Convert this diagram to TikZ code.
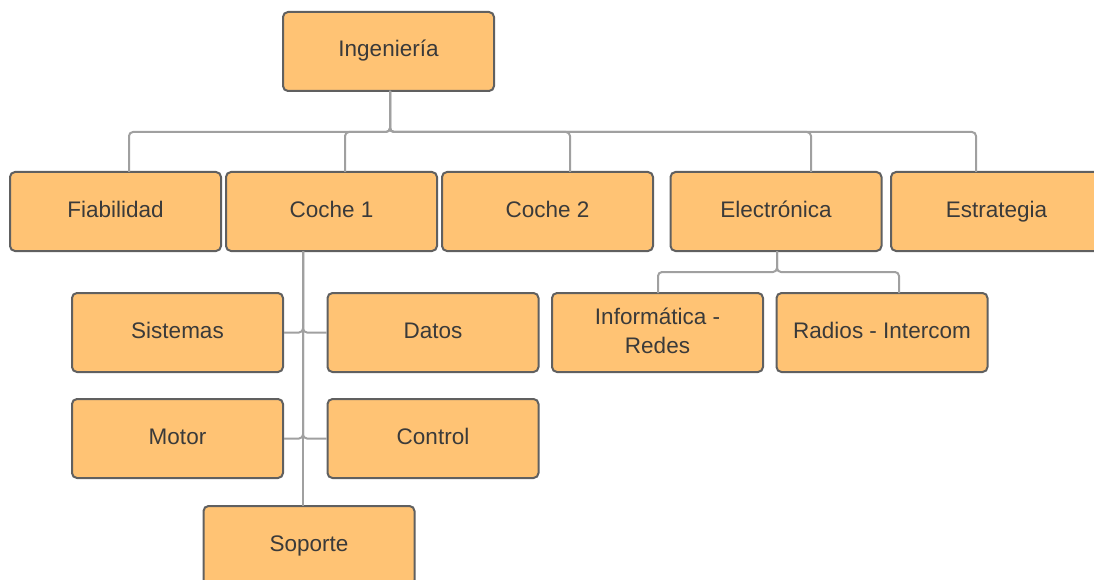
\documentclass[tikz,border=0pt]{standalone}
\usepackage{fontspec}
\setmainfont{Liberation Sans}
\definecolor{boxfill}{HTML}{FFC374}
\definecolor{boxline}{HTML}{606060}
\definecolor{txt}{HTML}{3A3A3A}
\definecolor{conn}{HTML}{A0A0A0}
\tikzset{
  orgbox/.style={draw=boxline, line width=2pt, fill=boxfill, rounded corners=5pt,
    minimum width=211pt, minimum height=79pt, inner sep=0pt, text=txt,
    text height=17pt, text depth=6pt,
    font=\fontsize{22.5}{29}\selectfont, align=center},
  twoline/.style={text height=, text depth=4pt},
  link/.style={draw=conn, line width=2pt, rounded corners=4pt}
}
\begin{document}
\begin{tikzpicture}[x=1pt, y=-1pt]
\useasboundingbox (0,0) rectangle (1094,580);
\clip (0,0) rectangle (1094,580);
\coordinate (ingb) at (390,91);
\coordinate (c1b) at (303,251);
\coordinate (eleb) at (777,251);
\coordinate (fiat) at (129,172);
\coordinate (c1t) at (345,172);
\coordinate (c2t) at (570,172);
\coordinate (elet) at (811,172);
\coordinate (estt) at (976,172);
\coordinate (soptop) at (303,506);
\coordinate (inft) at (658,293);
\coordinate (radt) at (899,293);

\node[orgbox] (ing) at (388.5,51.5) {Ingeniería};
\node[orgbox] (fia) at (115.5,211.5) {Fiabilidad};
\node[orgbox] (c1) at (331.5,211.5) {Coche 1};
\node[orgbox] (c2) at (547.5,211.5) {Coche 2};
\node[orgbox] (ele) at (776,211.5) {Electrónica};
\node[orgbox] (est) at (996.5,211.5) {Estrategia};
\node[orgbox] (sis) at (177.5,332.5) {Sistemas};
\node[orgbox] (dat) at (433,332.5) {Datos};
\node[orgbox] (mot) at (177.5,438.5) {Motor};
\node[orgbox] (con) at (433,438.5) {Control};
\node[orgbox] (sop) at (309,545.5) {Soporte};
\node[orgbox, twoline] (inf) at (657.5,332.5) {Informática -\\Redes};
\node[orgbox] (rad) at (882,332.5) {Radios - Intercom};

\foreach \t in {fiat,c1t,c2t,elet,estt}{
  \draw[link] (ingb) -- (ingb |- 0,132) -- (\t |- 0,132) -- (\t);
}
\draw[link] (c1b) |- (sis.east);
\draw[link] (c1b) |- (dat.west);
\draw[link] (c1b) |- (mot.east);
\draw[link] (c1b) |- (con.west);
\draw[link] (c1b) -- (soptop);
\draw[link] (eleb) -- (eleb |- 0,272) -- (inft |- 0,272) -- (inft);
\draw[link] (eleb) -- (eleb |- 0,272) -- (radt |- 0,272) -- (radt);
\end{tikzpicture}
\end{document}
